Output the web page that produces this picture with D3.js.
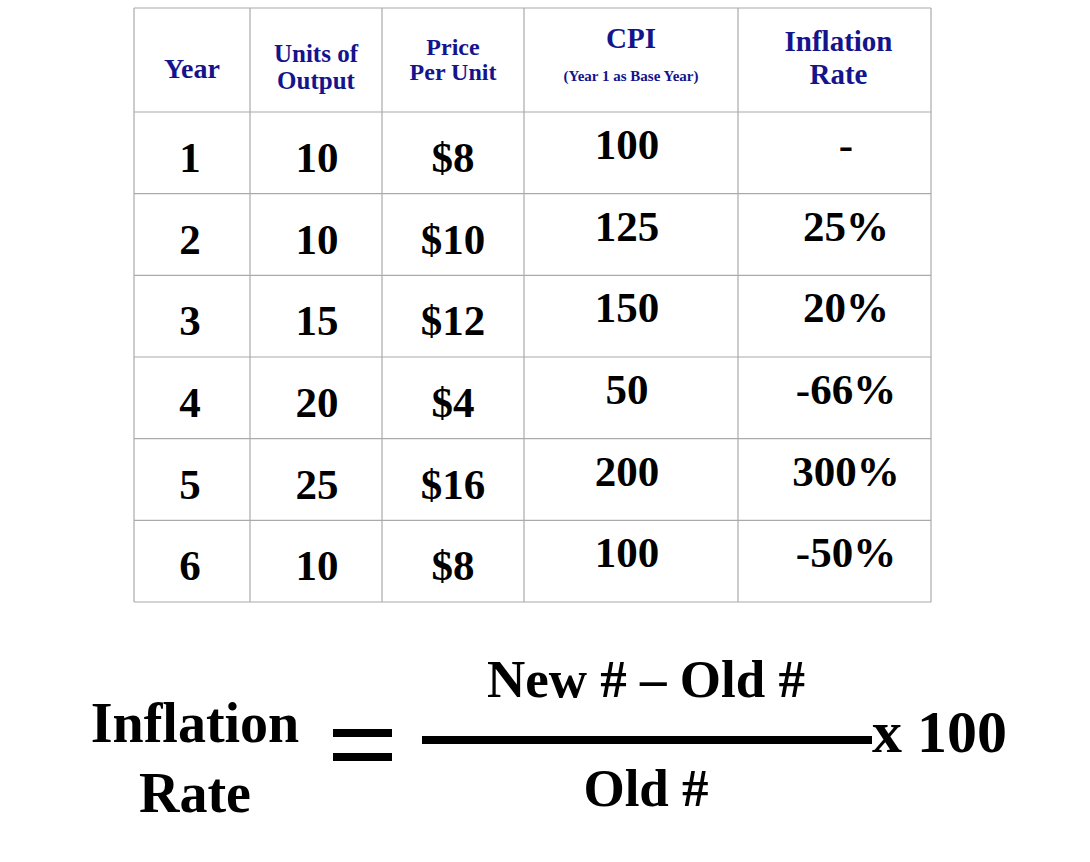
<!DOCTYPE html>
<html>
<head>
<meta charset="utf-8">
<script src="https://cdn.jsdelivr.net/npm/d3@7"></script>
<style>
  body { margin: 0; background: #fff; }
  text { font-family: "Liberation Serif", "Times New Roman", serif; font-weight: bold; }
</style>
</head>
<body>
<svg id="chart" width="1090" height="862"></svg>
<script>
// table data
const years = ['1', '2', '3', '4', '5', '6']
const units = ['10', '10', '15', '20', '25', '10']
const prices = ['$8', '$10', '$12', '$4', '$16', '$8']
const cpi = ['100', '125', '150', '50', '200', '100']
const inflation = ['-', '25%', '20%', '-66%', '300%', '-50%']
const headers = [['Year'], ['Units of', 'Output'], ['Price', 'Per Unit'], ['CPI'], ['Inflation', 'Rate']]

const svg = d3.select('#chart')
const colEdges = [134, 250, 382, 524, 738, 931]
const x = i => (colEdges[i] + colEdges[i + 1]) / 2
const headTop = 8, headBottom = 112
const y = d3.scaleLinear().domain([0, 6]).range([headBottom, 602])
const navy = '#14148c'

// grid
const grid = svg.append('g').attr('stroke', '#aaa').attr('stroke-width', 1.2)
colEdges.forEach(cx => grid.append('line').attr('x1', cx).attr('x2', cx).attr('y1', headTop).attr('y2', y(6)))
d3.range(7).forEach(r => grid.append('line').attr('x1', colEdges[0]).attr('x2', colEdges[5]).attr('y1', y(r)).attr('y2', y(r)))
grid.append('line').attr('x1', colEdges[0]).attr('x2', colEdges[5]).attr('y1', headTop).attr('y2', headTop)

// headers
const headY = [[78], [62, 89], [55, 80], [48], [51, 84]]
const headSize = [28, 25, 24, 29, 29]
headers.forEach((lines, c) => {
  lines.forEach((t, k) => {
    svg.append('text').attr('x', x(c) + (c === 4 ? 4 : 0)).attr('y', headY[c][k]).attr('text-anchor', 'middle')
      .attr('fill', navy).attr('font-size', headSize[c]).text(t)
  })
})
svg.append('text').attr('x', x(3)).attr('y', 81).attr('text-anchor', 'middle')
  .attr('fill', navy).attr('font-size', 15).text('(Year 1 as Base Year)')

// body
const cols = [years, units, prices, cpi, inflation]
const cx = [190, 317, 453, 627, 846]
cols.forEach((col, c) => {
  col.forEach((v, r) => {
    const base = c < 3 ? y(r) + 60 : y(r) + 47
    svg.append('text').attr('x', cx[c]).attr('y', base).attr('text-anchor', 'middle')
      .attr('font-size', 43).attr('fill', '#000').text(v)
  })
})

// formula
const f = svg.append('g').attr('fill', '#000')
f.append('text').attr('x', 195).attr('y', 742).attr('text-anchor', 'middle').attr('font-size', 56).text('Inflation')
f.append('text').attr('x', 195).attr('y', 812).attr('text-anchor', 'middle').attr('font-size', 56).text('Rate')
f.append('rect').attr('x', 333).attr('y', 729).attr('width', 59).attr('height', 8)
f.append('rect').attr('x', 333).attr('y', 753).attr('width', 59).attr('height', 8)
f.append('rect').attr('x', 422).attr('y', 736).attr('width', 450).attr('height', 8)
f.append('text').attr('x', 646).attr('y', 697).attr('text-anchor', 'middle').attr('font-size', 53).text('New # – Old #')
f.append('text').attr('x', 646).attr('y', 806).attr('text-anchor', 'middle').attr('font-size', 53).text('Old #')
f.append('text').attr('x', 872).attr('y', 752).attr('font-size', 60).text('x 100')
</script>
</body>
</html>
